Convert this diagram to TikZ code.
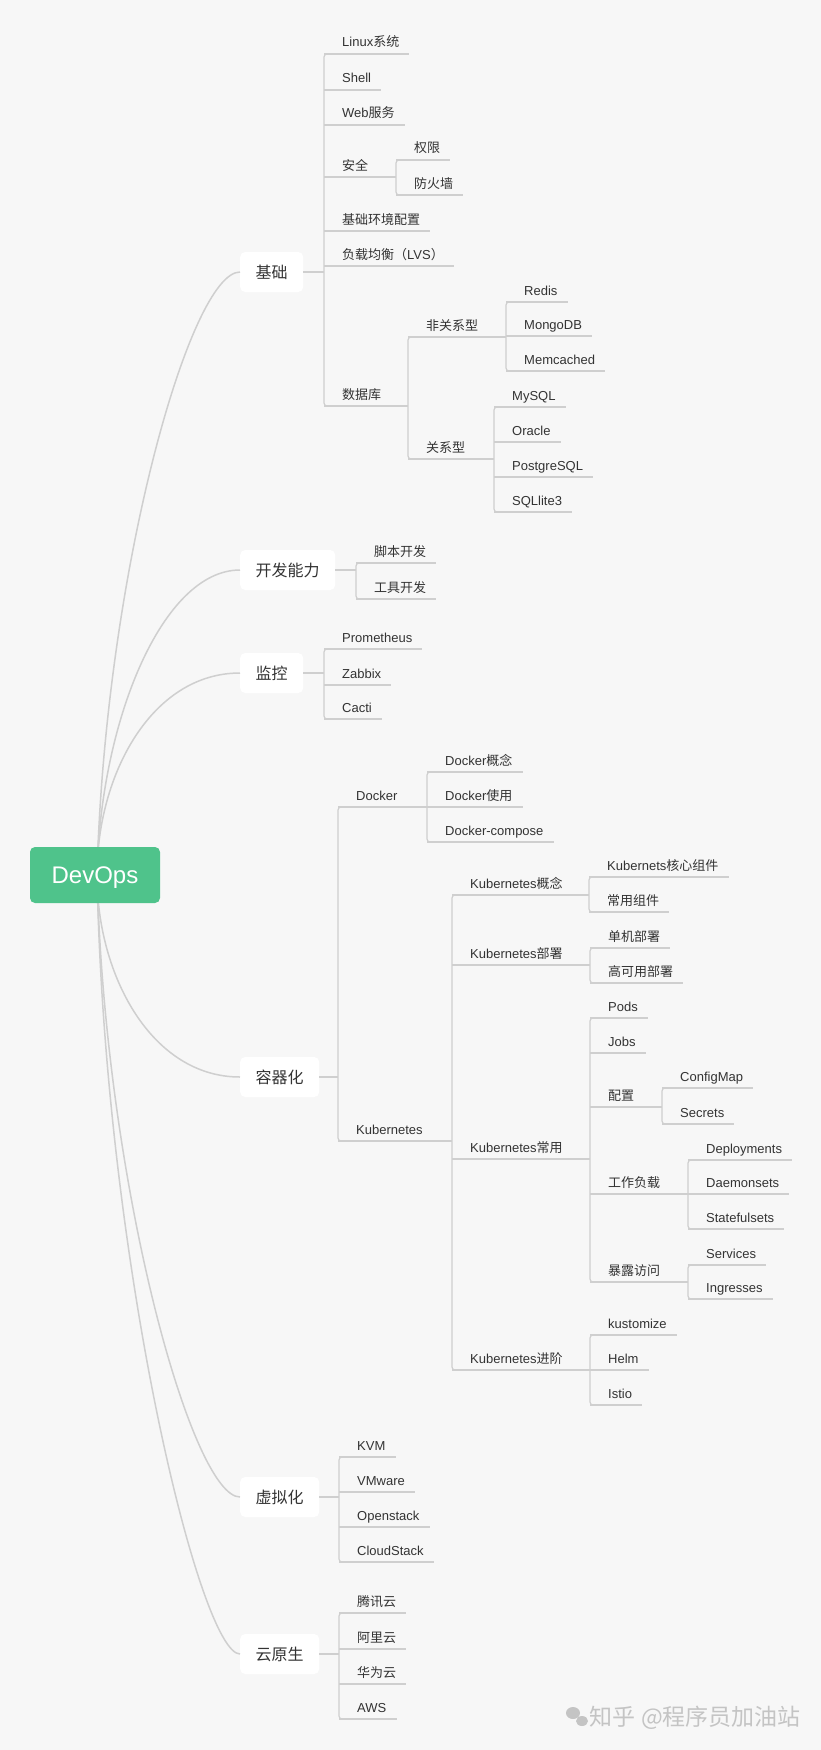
\documentclass[tikz,border=0pt]{standalone}
\usepackage{fontspec}
\setmainfont{Liberation Sans}
\newfontfamily\cjk{Noto Sans CJK SC}
\usetikzlibrary{calc}
\definecolor{bg}{HTML}{F7F7F7}
\definecolor{ln}{HTML}{CFCFCF}
\definecolor{tx}{HTML}{333333}
\definecolor{rootg}{HTML}{4FC38B}
\definecolor{wm}{HTML}{C4C4C4}
\tikzset{
  conn/.style={draw=ln, line width=1.2pt},
  curveln/.style={draw=ln, line width=1.5pt},
  leaf/.style={inner sep=0pt, text=tx, font=\fontsize{13}{15}\selectfont, anchor=base west},
  mainbox/.style={fill=white, rounded corners=5pt, inner xsep=15.5pt, inner ysep=0pt,
    minimum height=40pt, text=tx, font=\fontsize{16}{18}\selectfont, anchor=west},
  rootbox/.style={fill=rootg, rounded corners=5pt, minimum width=130pt, minimum height=56pt,
    inner sep=0pt, text depth=0pt, text=white, font=\fontsize{24}{28}\selectfont}
}
% name, bracket x, underline y, text
\newcommand\LF[4]{%
  \node[leaf] (#1) at ({#2+18},{#3-7}) {#4};
  \draw[conn] (#2,#3) -- ($(#1.base east)+(10,7)$);
}
% name, bracket x, underline y, text, sub-bracket x
\newcommand\PN[5]{%
  \node[leaf] (#1) at ({#2+18},{#3-7}) {#4};
  \draw[conn] (#2,#3) -- (#5,#3);
}
% bracket x, top, bottom
\newcommand\BR[3]{%
  \draw[conn, rounded corners=3pt] ({#1+8},#2) -- (#1,#2) -- (#1,#3) -- ({#1+8},#3);
}
\begin{document}
\begin{tikzpicture}[x=1pt,y=-1pt]
\useasboundingbox (0,0) rectangle (821,1750);
\fill[bg] (0,0) rectangle (821,1750);

% main branch nodes
\coordinate (rootc) at (97,875);
\node[mainbox] (jc) at (240,272) {\cjk 基础};
\node[mainbox] (kf) at (240,570) {\cjk 开发能力};
\node[mainbox] (jk) at (240,673) {\cjk 监控};
\node[mainbox] (rq) at (240,1077) {\cjk 容器化};
\node[mainbox] (xn) at (240,1497) {\cjk 虚拟化};
\node[mainbox] (yy) at (240,1654) {\cjk 云原生};

% curves from root
\foreach \n/\a/\b in {jc/8/50, kf/3/78, jk/0/88, rq/0/88, xn/8/48, yy/8/40}{
  \draw[curveln] (rootc) .. controls ($(rootc)!0.5!(rootc|-\n.west)+(\a,0)$) and ($(\n.west)+(-\b,0)$) .. (\n.west);
}
\node[rootbox] (root) at (95,875) {DevOps};

% ===== 基础 =====
\coordinate (bjc) at (324,272);
\draw[conn] (jc.east) -- (bjc);
\BR{324}{54}{406}
\LF{a1}{324}{54}{Linux{\cjk 系统}}
\LF{a2}{324}{90}{Shell}
\LF{a3}{324}{125}{Web{\cjk 服务}}
\PN{a4}{324}{177}{\cjk 安全}{396}
\BR{396}{160}{195}
\LF{a41}{396}{160}{\cjk 权限}
\LF{a42}{396}{195}{\cjk 防火墙}
\LF{a5}{324}{231}{\cjk 基础环境配置}
\LF{a6}{324}{266}{{\cjk 负载均衡（}LVS{\cjk ）}}
\PN{a7}{324}{406}{\cjk 数据库}{408}
\BR{408}{337}{459}
\PN{a71}{408}{337}{\cjk 非关系型}{506}
\BR{506}{302}{371}
\LF{a711}{506}{302}{Redis}
\LF{a712}{506}{336}{MongoDB}
\LF{a713}{506}{371}{Memcached}
\PN{a72}{408}{459}{\cjk 关系型}{494}
\BR{494}{407}{512}
\LF{a721}{494}{407}{MySQL}
\LF{a722}{494}{442}{Oracle}
\LF{a723}{494}{477}{PostgreSQL}
\LF{a724}{494}{512}{SQLlite3}

% ===== 开发能力 =====
\coordinate (bkf) at (356,570);
\draw[conn] (kf.east) -- (bkf);
\BR{356}{563}{599}
\LF{b1}{356}{563}{\cjk 脚本开发}
\LF{b2}{356}{599}{\cjk 工具开发}

% ===== 监控 =====
\coordinate (bjk) at (324,673);
\draw[conn] (jk.east) -- (bjk);
\BR{324}{649}{719}
\LF{c1}{324}{649}{Prometheus}
\LF{c2}{324}{685}{Zabbix}
\LF{c3}{324}{719}{Cacti}

% ===== 容器化 =====
\coordinate (brq) at (338,1077);
\draw[conn] (rq.east) -- (brq);
\BR{338}{807}{1141}
\PN{d1}{338}{807}{Docker}{427}
\BR{427}{772}{842}
\LF{d11}{427}{772}{Docker{\cjk 概念}}
\LF{d12}{427}{807}{Docker{\cjk 使用}}
\LF{d13}{427}{842}{Docker-compose}
\PN{d2}{338}{1141}{Kubernetes}{452}
\BR{452}{895}{1370}
\PN{d21}{452}{895}{Kubernetes{\cjk 概念}}{589}
\BR{589}{877}{912}
\LF{d211}{589}{877}{Kubernets{\cjk 核心组件}}
\LF{d212}{589}{912}{\cjk 常用组件}
\PN{d22}{452}{965}{Kubernetes{\cjk 部署}}{590}
\BR{590}{948}{983}
\LF{d221}{590}{948}{\cjk 单机部署}
\LF{d222}{590}{983}{\cjk 高可用部署}
\PN{d23}{452}{1159}{Kubernetes{\cjk 常用}}{590}
\BR{590}{1018}{1282}
\LF{d231}{590}{1018}{Pods}
\LF{d232}{590}{1053}{Jobs}
\PN{d233}{590}{1107}{\cjk 配置}{662}
\BR{662}{1088}{1124}
\LF{d2331}{662}{1088}{ConfigMap}
\LF{d2332}{662}{1124}{Secrets}
\PN{d234}{590}{1194}{\cjk 工作负载}{688}
\BR{688}{1160}{1229}
\LF{d2341}{688}{1160}{Deployments}
\LF{d2342}{688}{1194}{Daemonsets}
\LF{d2343}{688}{1229}{Statefulsets}
\PN{d235}{590}{1282}{\cjk 暴露访问}{688}
\BR{688}{1265}{1299}
\LF{d2351}{688}{1265}{Services}
\LF{d2352}{688}{1299}{Ingresses}
\PN{d24}{452}{1370}{Kubernetes{\cjk 进阶}}{590}
\BR{590}{1335}{1405}
\LF{d241}{590}{1335}{kustomize}
\LF{d242}{590}{1370}{Helm}
\LF{d243}{590}{1405}{Istio}

% ===== 虚拟化 =====
\coordinate (bxn) at (339,1497);
\draw[conn] (xn.east) -- (bxn);
\BR{339}{1457}{1562}
\LF{e1}{339}{1457}{KVM}
\LF{e2}{339}{1492}{VMware}
\LF{e3}{339}{1527}{Openstack}
\LF{e4}{339}{1562}{CloudStack}

% ===== 云原生 =====
\coordinate (byy) at (339,1654);
\draw[conn] (yy.east) -- (byy);
\BR{339}{1613}{1719}
\LF{f1}{339}{1613}{\cjk 腾讯云}
\LF{f2}{339}{1649}{\cjk 阿里云}
\LF{f3}{339}{1684}{\cjk 华为云}
\LF{f4}{339}{1719}{AWS}

% watermark
\fill[wm] (573,1713) ellipse (7pt and 6pt);
\fill[wm] (582,1721) ellipse (6pt and 5pt);
\node[text=wm, font=\fontsize{23}{26}\selectfont, anchor=east, inner sep=0pt] (wmk) at (801,1718) {\cjk 知乎 @程序员加油站};
\end{tikzpicture}
\end{document}
